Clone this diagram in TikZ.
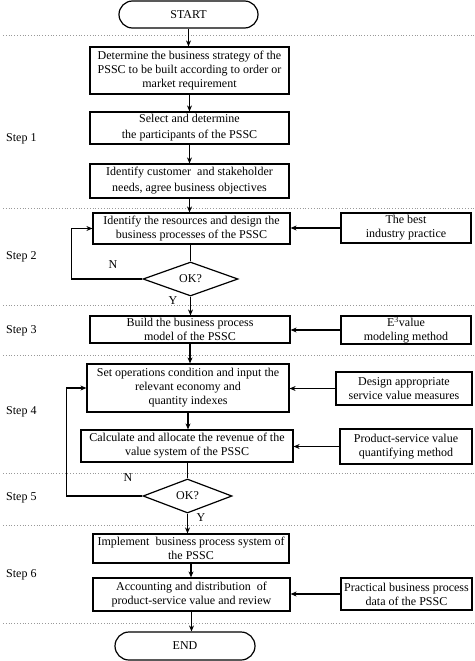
\documentclass[tikz,border=0pt]{standalone}
\usepackage{fontspec}
\setmainfont{Liberation Serif}
\usetikzlibrary{shapes.geometric,shapes.misc,arrows.meta}
\begin{document}
\begin{tikzpicture}[x=1pt,y=-1pt,
 every node/.style={font=\fontsize{12}{14}\selectfont},
 pbox/.style={draw,line width=1.2pt,align=center,inner sep=0pt},
 wide/.style={font=\fontsize{12}{16}\selectfont},
 term/.style={draw,line width=1.2pt,rounded rectangle,inner sep=0pt},
 dec/.style={draw,line width=1.2pt,diamond,inner sep=0pt},
 arr/.style={line width=1.3pt,-{Stealth[length=6pt,width=5pt]}},
 sep/.style={gray!80,dotted,line width=0.8pt},
 lbl/.style={anchor=west,inner sep=0pt}
]
\useasboundingbox (0,0) rectangle (474,661);
% separators
\foreach \yy in {35,208,305,355,473,525,623} \draw[sep] (3,\yy) -- (474,\yy);
% nodes
\node[term,minimum width=139pt,minimum height=27pt] (start) at (188.5,14.5) {START};
\node[pbox,minimum width=199pt,minimum height=47pt] (b1) at (189.5,70.5) {Determine the business strategy of the\\PSSC to be built according to order or\\market requirement};
\node[pbox,wide,minimum width=199pt,minimum height=32pt] (b2) at (189.5,128) {Select and determine\\the participants of the PSSC};
\node[pbox,wide,minimum width=199pt,minimum height=34pt] (b3) at (189.5,181) {Identify customer\ \ and stakeholder\\needs, agree business objectives};
\node[pbox,minimum width=197pt,minimum height=31pt] (b4) at (191.5,228.5) {Identify the resources and design the\\business processes of the PSSC};
\node[pbox,minimum width=130pt,minimum height=30pt] (r1) at (406,228) {The best\\industry practice};
\node[dec,minimum width=95pt,minimum height=34pt] (d1) at (190.5,279) {OK?};
\node[pbox,minimum width=200pt,minimum height=27pt] (b5) at (190,329.5) {Build the business process\\model of the PSSC};
\node[pbox,minimum width=130pt,minimum height=28pt] (r2) at (406,330) {E\textsuperscript{3}value\\modeling method};
\node[pbox,minimum width=202pt,minimum height=48pt] (b6) at (188,388) {Set operations condition and input the\\relevant economy and\\quantity indexes};
\node[pbox,minimum width=136pt,minimum height=33pt] (r3) at (404,388.5) {Design appropriate\\service value measures};
\node[pbox,minimum width=212pt,minimum height=32pt] (b7) at (187,446) {Calculate and allocate the revenue of the\\value system of the PSSC};
\node[pbox,minimum width=132pt,minimum height=35pt] (r4) at (406,446.5) {Product-service value\\quantifying method};
\node[dec,minimum width=89pt,minimum height=34pt] (d2) at (187.5,496) {OK?};
\node[pbox,minimum width=196pt,minimum height=29pt] (b8) at (191,548.5) {Implement\ \ business process system of\\the PSSC};
\node[pbox,minimum width=197pt,minimum height=33pt] (b9) at (191.5,594.5) {Accounting and distribution\ \ of\\product-service value and review};
\node[pbox,minimum width=131pt,minimum height=32pt] (r5) at (406.5,594) {Practical business process\\data of the PSSC};
\node[term,minimum width=140pt,minimum height=28pt] (end) at (185,646) {END};
% step labels
\node[lbl] (s1) at (6,139) {Step 1};
\node[lbl] (s2) at (6,257) {Step 2};
\node[lbl] (s3) at (6,331) {Step 3};
\node[lbl] (s4) at (6,412) {Step 4};
\node[lbl] (s5) at (6,498) {Step 5};
\node[lbl] (s6) at (6,575) {Step 6};
% N/Y labels
\node (n1) at (113,265) {N};
\node (y1) at (173,301) {Y};
\node (n2) at (128,478) {N};
\node (y2) at (201,518) {Y};
% main flow
\draw[arr] (start.south) -- (start.south |- b1.north);
\draw[arr] (b1.south) -- (b1.south |- b2.north);
\draw[arr] (b2.south) -- (b2.south |- b3.north);
\draw[arr] (b3.south) -- (b3.south |- b4.north);
\draw[line width=1.3pt] (d1.north |- b4.south) -- (d1.north);
\draw[arr] (d1.south) -- (d1.south |- b5.north);
\draw[arr] (b5.south) -- (b5.south |- b6.north);
\draw[arr] (b6.south) -- (b6.south |- b7.north);
\draw[line width=1.3pt] (d2.north |- b7.south) -- (d2.north);
\draw[arr] (d2.south) -- (d2.south |- b8.north);
\draw[arr] (b8.south) -- (b8.south |- b9.north);
\draw[arr] (b9.south) -- (b9.south |- end.north);
% side inputs
\draw[arr] (r1.west) -- (r1.west -| b4.east);
\draw[arr] (r2.west) -- (r2.west -| b5.east);
\draw[arr] (r3.west) -- (r3.west -| b6.east);
\draw[arr] (r4.west) -- (r4.west -| b7.east);
\draw[arr] (r5.west) -- (r5.west -| b9.east);
% loops
\draw[arr] (d1.west) -| ([xshift=-21pt]b4.west) -- (b4.west);
\draw[arr] (d2.west) -| ([xshift=-20pt]b6.west) -- (b6.west);
\end{tikzpicture}
\end{document}
